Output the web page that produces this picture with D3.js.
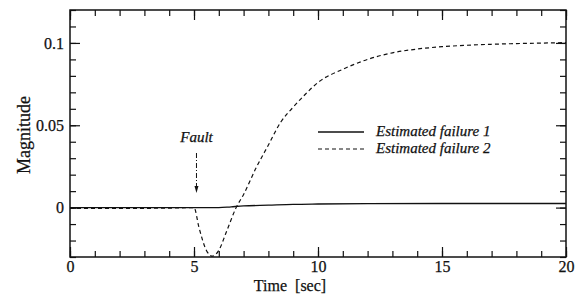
<!DOCTYPE html>
<html>
<head>
<meta charset="utf-8">
<script src="https://cdn.jsdelivr.net/npm/d3@7"></script>
<style>
  body { margin: 0; background: #fff; }
  svg text { font-family: 'Liberation Serif'; stroke: #111; stroke-width: 0.25px; }
</style>
</head>
<body>
<div id="chart"></div>
<script>
// data
const time1 = [0, 5, 6, 6.5, 7, 8, 9, 10, 12, 15, 20];
const fail1 = [0, 0, 0, 0.0005, 0.001, 0.0015, 0.002, 0.0022, 0.0024, 0.0025, 0.0025];

const time2 = [0, 2, 4, 5, 5.2, 5.5, 5.75, 6.0, 6.3, 6.7, 7.0, 7.5, 8, 8.5, 9, 9.5, 10, 11, 12, 13, 14, 15, 16, 17, 18, 19, 20];
const fail2 = [-0.0004, -0.0005, -0.0003, 0, -0.012, -0.026, -0.0295, -0.026, -0.015, 0, 0.008, 0.024, 0.038, 0.052, 0.061, 0.069, 0.076, 0.084, 0.090, 0.094, 0.0963, 0.0977, 0.0986, 0.0992, 0.0996, 0.0999, 0.1002];

const xTicks = [0, 5, 10, 15, 20];
const yTicks = [0, 0.05, 0.1];
const legendLabels = ["Estimated failure 1", "Estimated failure 2"];
const faultTime = 5.1;

const serif = "Liberation Serif";

const margin = {top: 10, right: 10, bottom: 43, left: 70},
    width = 576 - margin.left - margin.right,
    height = 300 - margin.top - margin.bottom;

const svg = d3.select("#chart")
  .append("svg")
    .attr("width", 576)
    .attr("height", 300)
  .append("g")
    .attr("transform", `translate(${margin.left},${margin.top})`);

const x = d3.scaleLinear().domain([0, 20]).range([0, width]);
const y = d3.scaleLinear().domain([-0.03, 0.12]).range([height, 0]);

// ticks, inside on all four sides
const xMinor = d3.range(0, 21, 1);
const yMinor = d3.range(-3, 13, 1).map(d => d / 100);

function drawAxis(axis, major, minor, transform) {
  const g = svg.append("g").attr("transform", transform);
  g.call(axis.tickValues(minor).tickSize(-6).tickFormat(""));
  g.select(".domain").remove();
  const g2 = svg.append("g").attr("transform", transform);
  g2.call(axis.tickValues(major).tickSize(-10).tickFormat(d => d === 0 ? "0" : String(d)));
  g2.select(".domain").remove();
  g2.attr("font-family", serif).attr("font-size", 16);
  return g2;
}

const xb = drawAxis(d3.axisBottom(x), xTicks, xMinor, `translate(0,${height})`);
xb.selectAll("text").attr("y", 4).attr("fill", "#111");
const xt = drawAxis(d3.axisTop(x), xTicks, xMinor, `translate(0,0)`);
xt.selectAll("text").remove();
const yl = drawAxis(d3.axisLeft(y), yTicks, yMinor, `translate(0,0)`);
yl.selectAll("text").attr("x", -6).attr("fill", "#111");
const yr = drawAxis(d3.axisRight(y), yTicks, yMinor, `translate(${width},0)`);
yr.selectAll("text").remove();
svg.selectAll(".tick line").attr("stroke", "#111").attr("stroke-width", 1.2);

// frame
svg.append("rect")
  .attr("width", width).attr("height", height)
  .attr("fill", "none").attr("stroke", "#111").attr("stroke-width", 1.5);

// curves
const line = d3.line().x(d => x(d[0])).y(d => y(d[1])).curve(d3.curveMonotoneX);

svg.append("path")
  .datum(d3.zip(time1, fail1))
  .attr("fill", "none").attr("stroke", "#111").attr("stroke-width", 1.3)
  .attr("d", line);

svg.append("path")
  .datum(d3.zip(time2, fail2))
  .attr("fill", "none").attr("stroke", "#111").attr("stroke-width", 1.2)
  .attr("stroke-dasharray", "4,3")
  .attr("d", line);

// axis titles
svg.append("text")
  .attr("x", 220).attr("y", height + 34)
  .attr("text-anchor", "middle").attr("font-size", 16).attr("font-family", serif)
  .attr("fill", "#111")
  .style("white-space", "pre")
  .text("Time  [sec]");

svg.append("text")
  .attr("transform", "rotate(-90)")
  .attr("x", -125).attr("y", -40)
  .attr("text-anchor", "middle").attr("font-size", 18).attr("font-family", serif)
  .attr("fill", "#111")
  .text("Magnitude");

// fault annotation
svg.append("text")
  .attr("x", x(faultTime)).attr("y", 132)
  .attr("text-anchor", "middle").attr("font-size", 15).attr("font-style", "italic")
  .attr("font-family", serif).attr("fill", "#111")
  .text("Fault");

svg.append("line")
  .attr("x1", x(faultTime)).attr("x2", x(faultTime))
  .attr("y1", 143).attr("y2", 176)
  .attr("stroke", "#111").attr("stroke-width", 1)
  .attr("stroke-dasharray", "5,2,1,2");
svg.append("path")
  .attr("d", `M${x(faultTime) - 2},176 L${x(faultTime) + 2},176 L${x(faultTime)},183 Z`)
  .attr("fill", "#111");

// legend
const legend = svg.append("g").attr("transform", "translate(248,122)");
legendLabels.forEach(function(lab, i) {
  legend.append("line")
    .attr("x1", 0).attr("x2", 46)
    .attr("y1", i * 17).attr("y2", i * 17)
    .attr("stroke", "#111").attr("stroke-width", i ? 1.1 : 1.3)
    .attr("stroke-dasharray", i ? "4,3" : null);
  legend.append("text")
    .attr("x", 58).attr("y", i * 17 + 4)
    .attr("font-size", 15).attr("font-style", "italic").attr("font-family", serif)
    .attr("fill", "#111")
    .text(lab);
});
</script>
</body>
</html>
